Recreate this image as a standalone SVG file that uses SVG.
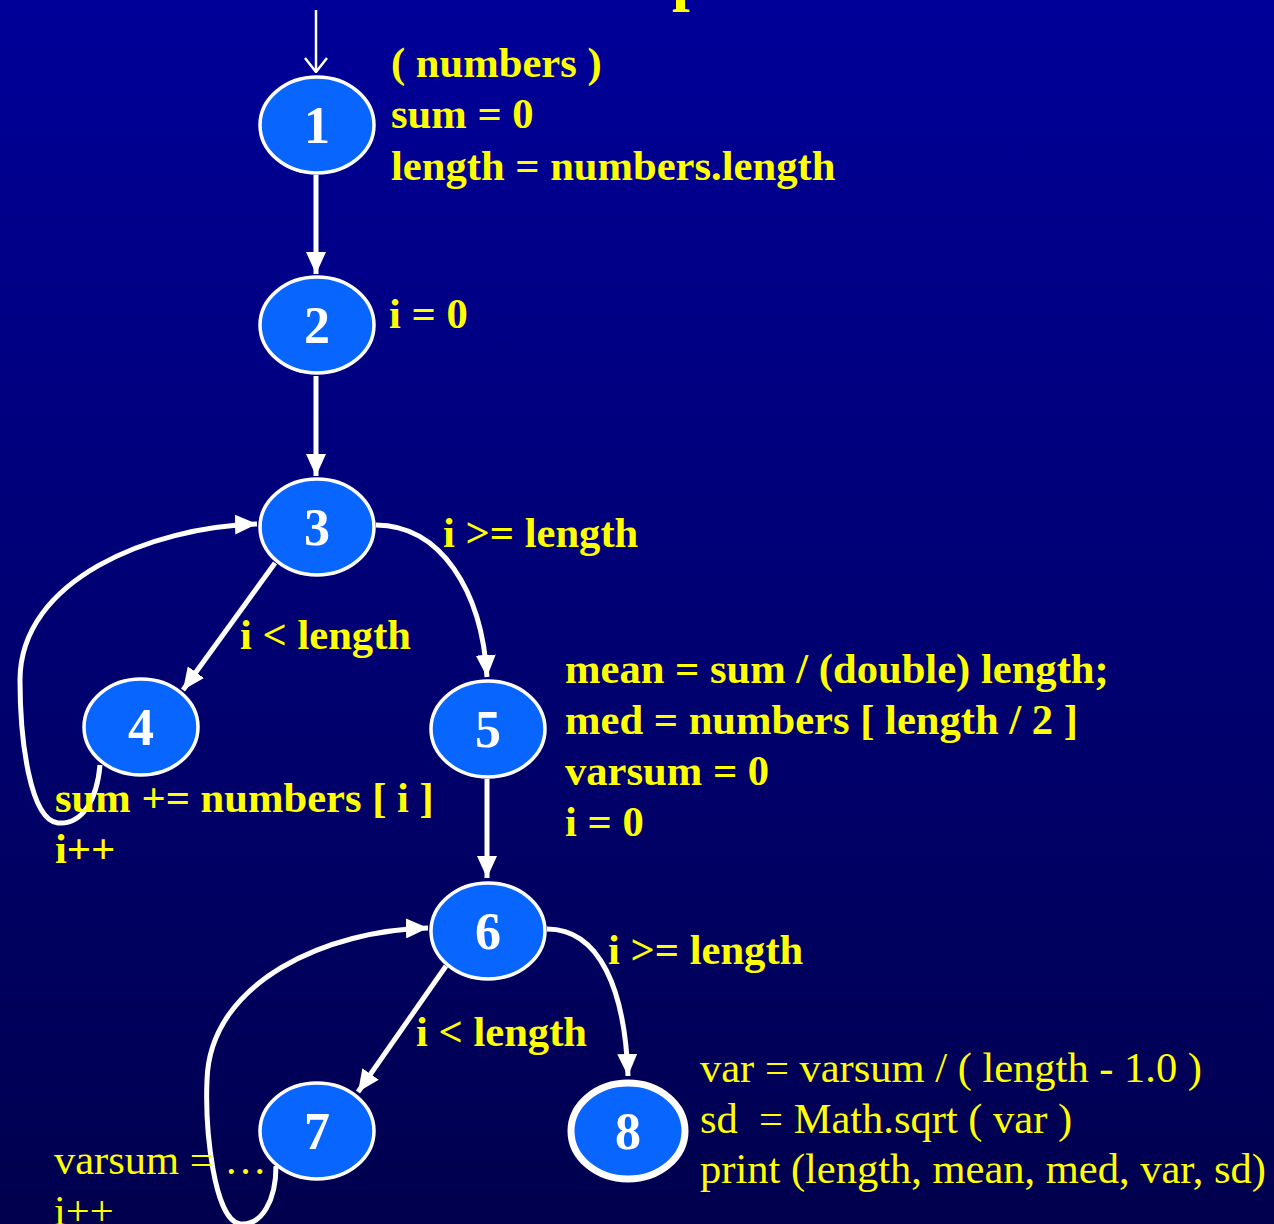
<svg xmlns="http://www.w3.org/2000/svg" width="1274" height="1224" viewBox="0 0 1274 1224">
<defs>
<linearGradient id="bg" x1="0" y1="0" x2="0" y2="1">
<stop offset="0" stop-color="#000099"/>
<stop offset="1" stop-color="#00004e"/>
</linearGradient>
<marker id="ah" viewBox="0 0 22 20" refX="22" refY="10" markerWidth="22" markerHeight="20" markerUnits="userSpaceOnUse" orient="auto">
<path d="M0,0 L22,10 L0,20 Z" fill="#fff"/>
</marker>
<marker id="av" viewBox="0 0 16 24" refX="15" refY="12" markerWidth="16" markerHeight="24" markerUnits="userSpaceOnUse" orient="auto">
<path d="M1,1 L15,12 L1,23" fill="none" stroke="#fff" stroke-width="2.5"/>
</marker>
</defs>
<style>
.node ellipse{fill:#0866ff;stroke:#fff;stroke-width:3.5}
.num{font-family:"Liberation Serif","Times New Roman",serif;font-weight:bold;font-size:52px;fill:#fff;text-anchor:middle}
.lb{font-family:"Liberation Serif","Times New Roman",serif;font-weight:bold;font-size:42.6px;fill:#ffff00}
.lr{font-family:"Liberation Serif","Times New Roman",serif;font-size:42.5px;fill:#ffff00}
.e{fill:none;stroke:#fff;stroke-width:5;marker-end:url(#ah)}
</style>
<rect width="1274" height="1224" fill="url(#bg)"/>
<text class="lb" x="672" y="-2" style="font-size:64px">p</text>

<g id="edges">
<path d="M316,10 L316,72" fill="none" stroke="#fff" stroke-width="2.5" marker-end="url(#av)"/>
<path class="e" d="M316,175 L316,274"/>
<path class="e" d="M316,376 L316,476"/>
<path class="e" d="M275,563 L183,690"/>
<path class="e" d="M376,525 C440,525 482,590 487,677"/>
<path class="e" d="M100,765 C97,800 82,825 58,823 C30,820 20,740 20,680 C20,580 150,527 257,524"/>
<path class="e" d="M487,779 L487,878"/>
<path class="e" d="M446,966 L358,1092"/>
<path class="e" d="M547,929 C600,929 625,990 628,1076"/>
<path class="e" d="M276,1166 C276,1200 262,1226 240,1224 C214,1220 205,1130 207,1080 C210,980 330,930 428,928"/>
</g>

<g id="n1" class="node"><ellipse cx="317" cy="125" rx="57" ry="48"/><text class="num" x="317" y="143">1</text></g>
<g id="n2" class="node"><ellipse cx="317" cy="325" rx="57" ry="48"/><text class="num" x="317" y="343">2</text></g>
<g id="n3" class="node"><ellipse cx="317" cy="527" rx="57" ry="48"/><text class="num" x="317" y="545">3</text></g>
<g id="n4" class="node"><ellipse cx="141" cy="727" rx="57" ry="48"/><text class="num" x="141" y="745">4</text></g>
<g id="n5" class="node"><ellipse cx="488" cy="729" rx="57" ry="48"/><text class="num" x="488" y="747">5</text></g>
<g id="n6" class="node"><ellipse cx="488" cy="931" rx="57" ry="48"/><text class="num" x="488" y="949">6</text></g>
<g id="n7" class="node"><ellipse cx="317" cy="1131" rx="57" ry="48"/><text class="num" x="317" y="1149">7</text></g>
<g id="n8" class="node"><ellipse cx="628" cy="1131" rx="57" ry="48" style="stroke-width:7"/><text class="num" x="628" y="1149">8</text></g>

<g id="labels">
<text class="lb" x="391" y="77">( numbers )</text>
<text class="lb" x="391" y="128">sum = 0</text>
<text class="lb" x="391" y="180">length = numbers.length</text>
<text class="lb" x="389" y="328">i = 0</text>
<text class="lb" x="443" y="547">i &gt;= length</text>
<text class="lb" x="240" y="649">i &lt; length</text>
<text class="lb" x="565" y="683">mean = sum / (double) length;</text>
<text class="lb" x="565" y="734">med = numbers [ length / 2 ]</text>
<text class="lb" x="565" y="785">varsum = 0</text>
<text class="lb" x="565" y="836">i = 0</text>
<text class="lb" x="55" y="812">sum += numbers [ i ]</text>
<text class="lb" x="55" y="863">i++</text>
<text class="lb" x="608" y="964">i &gt;= length</text>
<text class="lb" x="416" y="1046">i &lt; length</text>
<text class="lr" x="700" y="1082">var = varsum / ( length - 1.0 )</text>
<text class="lr" x="700" y="1133" xml:space="preserve">sd  = Math.sqrt ( var )</text>
<text class="lr" x="700" y="1183">print (length, mean, med, var, sd)</text>
<text class="lr" x="54" y="1174">varsum = …</text>
<text class="lr" x="54" y="1225">i++</text>
</g>
</svg>
